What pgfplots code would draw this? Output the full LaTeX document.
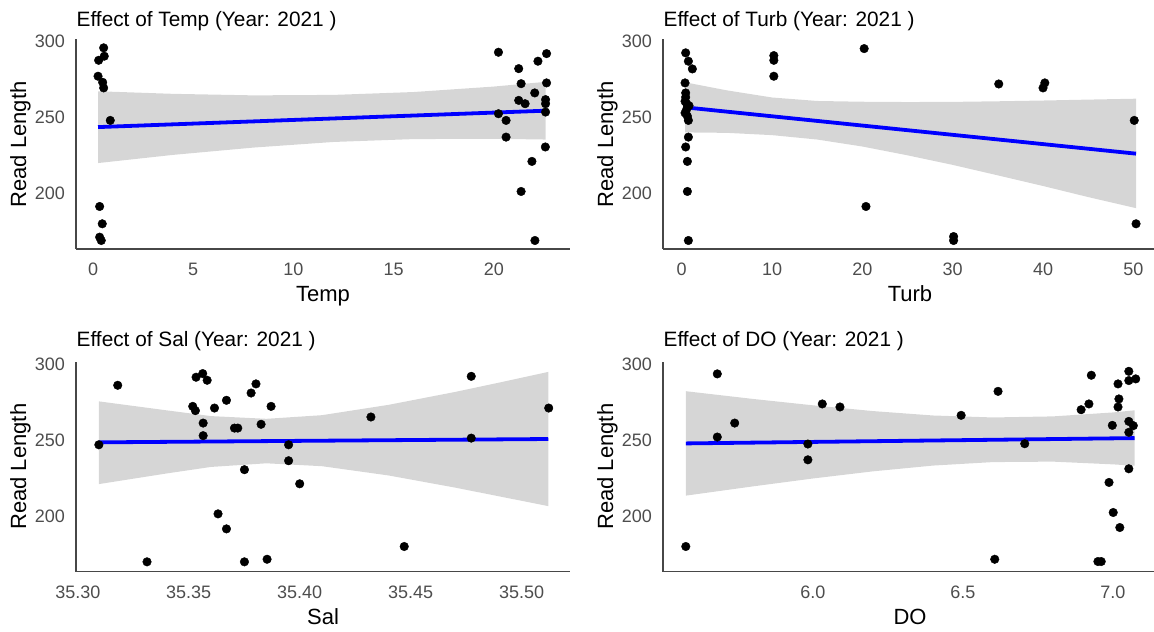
\documentclass[border=0pt]{standalone}
\usepackage{fontspec}
\setmainfont{Liberation Sans}
\usepackage{pgfplots}
\pgfplotsset{compat=1.18}

\definecolor{ticktext}{HTML}{4D4D4D}
\definecolor{band}{HTML}{999999}
\definecolor{fitblue}{HTML}{0000FF}

\pgfplotsset{
  effectpanel/.style={
    scale only axis, width=494bp, height=209.5bp,
    anchor=south west,
    ymin=163.5, ymax=301.5,
    ytick={200,250,300},
    axis lines=left,
    axis line style={-, draw=black!72, line width=1.3bp},
    major tick length=0pt,
    tick style={draw=none},
    /pgf/number format/assume math mode=true,
    tick label style={font=\fontsize{18bp}{21bp}\selectfont, text=ticktext, inner sep=0pt},
    xticklabel style={anchor=north, yshift=-14bp},
    yticklabel style={anchor=east, xshift=-11bp},
  },
  dots/.style={only marks, mark=*, mark size=4.3bp, mark options={draw=none, fill=black}},
  ribbon/.style={draw=none, fill=band, fill opacity=0.4},
  fitline/.style={draw=fitblue, line width=3.8bp, no marks},
}

\newcommand{\paneltitle}[3]{\node[anchor=base west, inner sep=0pt, font=\fontsize{20.8bp}{25bp}\selectfont] at (#1,#2) {#3};}
\newcommand{\xtitle}[3]{\node[anchor=base, inner sep=0pt, font=\fontsize{22bp}{26bp}\selectfont] at (#1,#2) {#3};}
\newcommand{\ytitle}[2]{\node[anchor=base, rotate=90, inner sep=0pt, font=\fontsize{22bp}{26bp}\selectfont] at (#1,#2) {Read Length};}

\begin{document}
\begin{tikzpicture}

% ---------------- Temp ----------------
\begin{axis}[effectpanel, at={(76bp,383bp)}, xmin=-0.85, xmax=23.8, xtick={0,5,10,15,20}]
\addplot[dots] coordinates {
(0.53,296.0) (0.56,290.5) (0.28,287.8) (0.25,277.3) (0.48,273.3) (0.53,269.6)
(0.86,248.2) (0.33,191.5) (0.46,180.1) (0.33,171.3) (0.41,169.1)
(20.23,293.1) (20.23,252.6) (20.61,248.2) (20.61,237.2) (21.24,282.3)
(21.36,272.4) (21.24,261.4) (21.56,259.2) (22.04,266.3) (21.36,201.4)
(21.90,221.2) (22.05,169.1) (22.20,287.2) (22.63,292.2) (22.63,272.9)
(22.58,261.9) (22.58,259.2) (22.58,253.7) (22.57,230.7)
};
\addplot[ribbon] coordinates {
(0.25,267.4) (4,265.7) (8,264.7) (12,265.0) (16,266.9) (20,270.5) (22.58,273.6)
(22.58,235.6) (20,236.1) (16,235.9) (12,234.0) (8,230.3) (4,225.5) (0.25,220.1)
} -- cycle;
\addplot[fitline] coordinates {(0.25,243.8) (22.58,254.6)};
\end{axis}

% ---------------- Turb ----------------
\begin{axis}[effectpanel, at={(663bp,383bp)}, xmin=-2.07, xmax=52.62, xtick={0,10,20,30,40,50}]
\addplot[dots] coordinates {
(0.44,292.7) (0.74,287.2) (1.18,282.1) (0.37,272.9) (0.44,266.3) (0.44,263.5)
(0.37,260.8) (0.55,259.2) (0.81,257.9) (0.55,255.5) (0.37,253.1) (0.63,251.0)
(0.74,248.2) (0.74,237.2) (0.44,230.7) (0.63,221.2) (0.63,201.4) (0.74,169.1)
(10.2,290.9) (10.2,287.8) (10.2,277.3) (20.2,295.5) (20.4,191.5)
(30.1,171.7) (30.1,169.1) (35.1,272.2) (40.2,272.9) (40.0,269.6)
(50.1,248.2) (50.3,180.1)
};
\addplot[ribbon] coordinates {
(0.37,273.3) (5,268.0) (10,263.3) (15,261.0) (20,260.5) (25,260.3) (30,260.4)
(35,260.8) (40,261.3) (45,261.9) (50.3,262.5)
(50.3,190.4) (45,197.7) (40,205.0) (35,212.0) (30,218.9) (25,225.2) (20,231.0)
(15,235.6) (10,238.5) (5,240.0) (0.37,240.3)
} -- cycle;
\addplot[fitline] coordinates {(0.37,256.8) (50.3,226.3)};
\end{axis}

% ---------------- Sal ----------------
\begin{axis}[effectpanel, at={(76bp,60.3bp)}, xmin=35.2992, xmax=35.5218,
  xtick={35.30,35.35,35.40,35.45,35.50}, xticklabels={35.30,35.35,35.40,35.45,35.50}]
\addplot[dots] coordinates {
(35.3095,247.1) (35.318,286.3) (35.3312,170.0) (35.3518,272.4) (35.353,269.6)
(35.3533,291.6) (35.3563,294.0) (35.3583,289.6) (35.3565,261.4) (35.3565,253.1)
(35.3616,271.3) (35.3632,201.6) (35.367,276.4) (35.367,191.7) (35.3706,258.1)
(35.3721,258.1) (35.3751,230.7) (35.3751,170.0) (35.3781,281.2) (35.3803,287.2)
(35.3826,260.6) (35.3853,171.7) (35.3871,272.4) (35.3950,247.1) (35.3950,236.6)
(35.400,221.4) (35.4321,265.4) (35.4471,180.1) (35.4773,292.2) (35.4773,251.5)
(35.5122,271.3)
};
\addplot[ribbon] coordinates {
(35.3095,275.7) (35.34,269.8) (35.36,266.0) (35.385,264.2) (35.41,266.6)
(35.44,273.4) (35.47,281.9) (35.49,288.1) (35.512,295.1)
(35.512,206.7) (35.49,213.1) (35.47,218.9) (35.44,226.9) (35.41,233.0)
(35.385,234.9) (35.36,232.5) (35.34,228.2) (35.3095,221.2)
} -- cycle;
\addplot[fitline] coordinates {(35.3095,248.7) (35.512,250.9)};
\end{axis}

% ---------------- DO ----------------
\begin{axis}[effectpanel, at={(663bp,60.3bp)}, xmin=5.5, xmax=7.147,
  xtick={6.0,6.5,7.0}, xticklabels={6.0,6.5,7.0}]
\addplot[dots] coordinates {
(5.576,180.1) (5.681,293.8) (5.681,252.2) (5.739,261.4) (5.983,247.6)
(5.983,237.2) (6.031,274.0) (6.090,272.0) (6.494,266.5) (6.606,171.7)
(6.617,282.3) (6.706,247.8) (6.894,270.2) (6.920,274.0) (6.928,292.9)
(6.950,170.2) (6.961,170.2) (6.987,222.3) (6.998,259.9) (7.020,277.3)
(7.017,272.0) (7.001,202.5) (7.023,192.6) (7.017,287.2) (7.053,295.5)
(7.053,289.4) (7.076,290.5) (7.053,262.5) (7.068,259.7) (7.053,255.3)
(7.053,231.3)
};
\addplot[ribbon] coordinates {
(5.576,282.4) (5.8,277.3) (6.0,273.1) (6.2,269.3) (6.4,266.4) (6.6,265.1)
(6.8,265.8) (7.0,268.4) (7.072,269.8)
(7.072,233.3) (7.0,234.2) (6.8,236.0) (6.6,235.7) (6.4,233.4) (6.2,229.6)
(6.0,224.9) (5.8,219.7) (5.576,213.6)
} -- cycle;
\addplot[fitline] coordinates {(5.576,248.0) (7.072,251.5)};
\end{axis}

% ---------------- titles ----------------
\paneltitle{76.5bp}{605.5bp}{Effect of Temp (Year: 2021 )}
\paneltitle{663.5bp}{605.5bp}{Effect of Turb (Year: 2021 )}
\paneltitle{76.5bp}{285bp}{Effect of Sal (Year: 2021 )}
\paneltitle{663.5bp}{285bp}{Effect of DO (Year: 2021 )}

\xtitle{323bp}{330.3bp}{Temp}
\xtitle{910bp}{330.3bp}{Turb}
\xtitle{323bp}{8bp}{Sal}
\xtitle{910bp}{8bp}{DO}

\ytitle{26bp}{487.5bp}
\ytitle{613bp}{487.5bp}
\ytitle{26bp}{165.3bp}
\ytitle{613bp}{165.3bp}

\pgfresetboundingbox
\useasboundingbox (0,0) rectangle (1154bp,632bp);
\end{tikzpicture}
\end{document}
